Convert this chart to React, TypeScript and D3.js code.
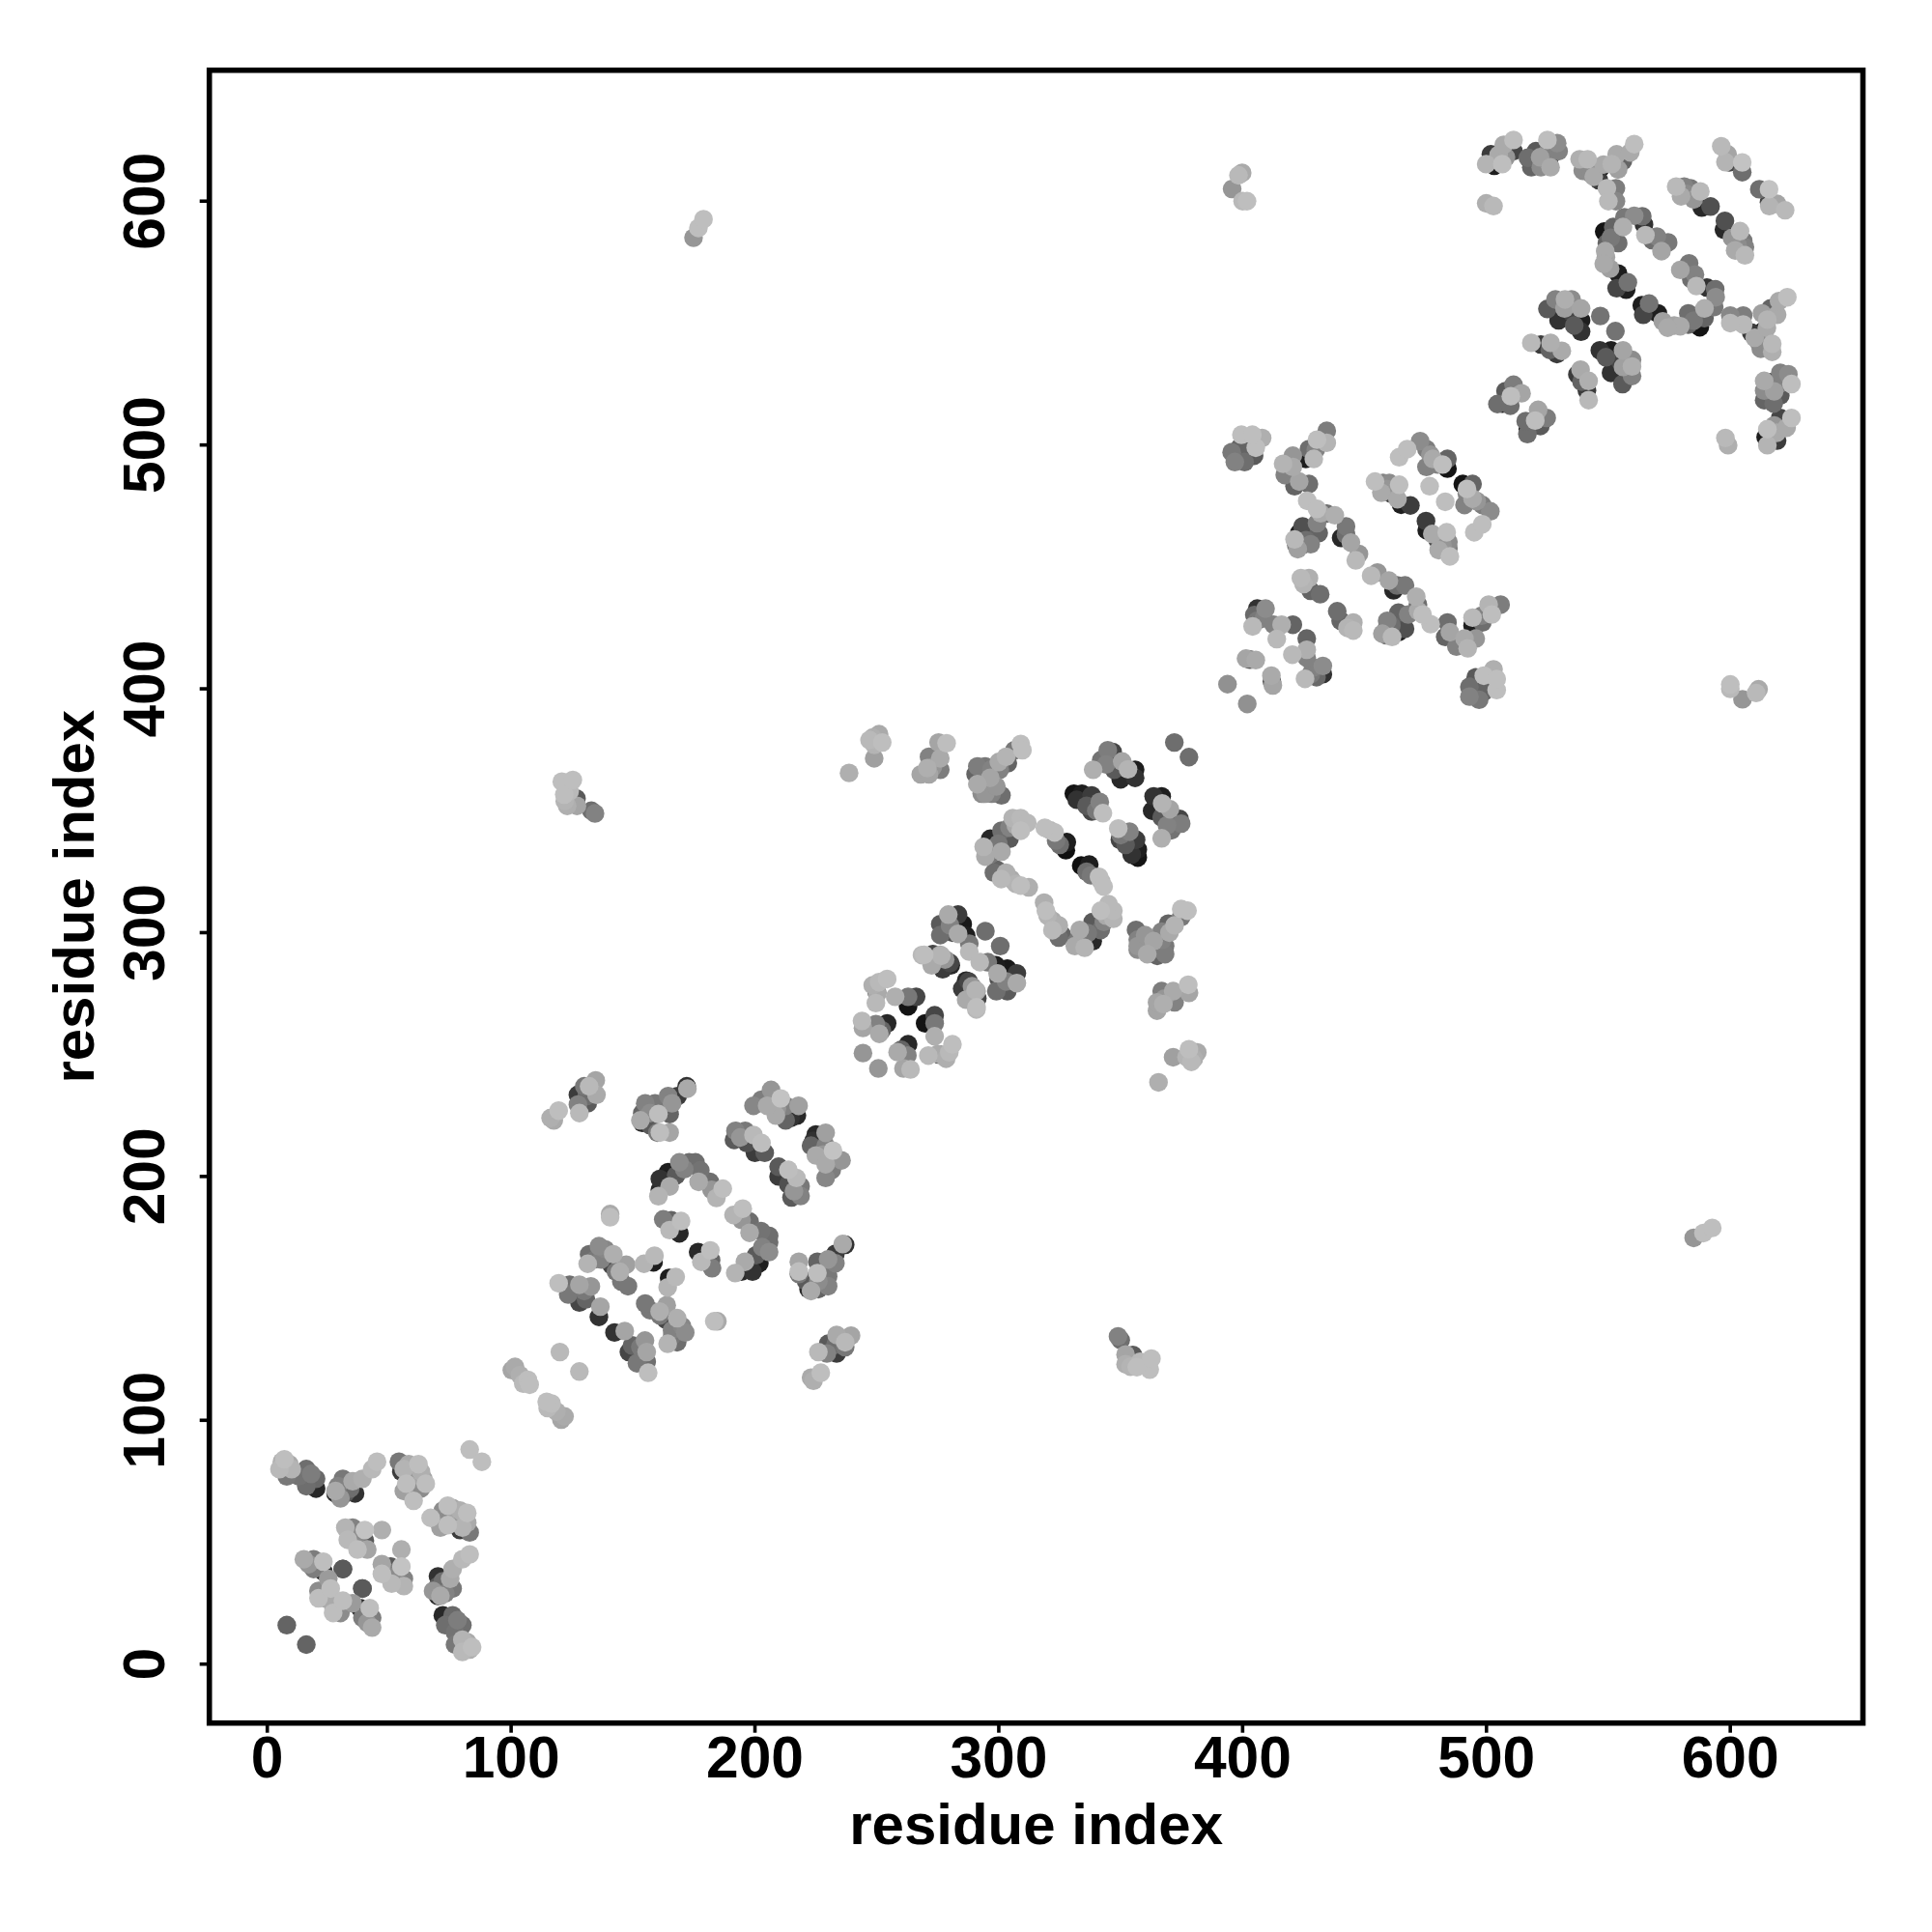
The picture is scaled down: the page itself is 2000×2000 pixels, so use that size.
import React from "react";
import * as d3 from "d3";

type C = [number, number, number];

const xTicks = [0, 100, 200, 300, 400, 500, 600];
const yTicks = [0, 100, 200, 300, 400, 500, 600];
const axisTitle = "residue index";

const block0: C[] = [
  [8,16,100],[7,84,190],[5,80,185],[10,80,180],[8,77,120],[16,80,110],[13,77,115],[20,72,40],[16,73,110],[20,76,105],[18,78,125],[6,83,175],[9,82,170],
  [36,70,50],[28,70,40],[28,71,170],[30,68,150],[32,70,90],[31,76,120],[39,76,175],[43,80,185],[45,83,190],[83,88,190],[34,72,110],[35,75,170],[29,73,130],
  [55,79,60],[54,83,120],[58,82,170],[62,82,190],[63,79,175],[63,72,140],[56,71,160],[57,74,190],[65,74,190],[60,67,190],[60,78,150],[56,80,180],[64,76,165],
  [32,56,180],[35,56,130],[33,51,185],[40,50.6,90],[36,52,140],[40,55,195],[47,55,175],[37,47,190],[41,47,165],[38,49,120],
  [15,43,170],[19,43,125],[19,39,125],[23,38,40],[23,42,190],[31,39,90],[25,35,155],[23,30,60],[21,30,140],[21,27,190],[26,31,190],[39,31,85],[17,41,150],[24,27,170],
];

const block1: C[] = [
  [172,237,50],[172.3,236,170],[130,237,120],[127.4,233.5,60],[132,237,185],[131.4,230,90],[127.4,229.5,130],[135,233.5,170],[134.7,239.4,165],[128,226,185],[116.2,224,175],[117.5,223,170],[119.5,227,190],[131,233,110],
  [168.3,233,60],[164.4,233,130],[165,225.6,100],[155,230,130],[159,230,120],[153.8,222,40],[153,223,170],[153.8,226,100],[160.4,225.6,190],[157,221,90],[160,218,120],[161,218,190],[165,218,165],[166,230,150],[157,226,140],
  [199.4,229,135],[202.7,231.5,125],[206.6,235.5,150],[210.6,232,195],[212.6,229,130],[208.6,225,170],[212.6,223,100],[214.6,224,50],[217.2,225,40],[217.9,229,160],[205,229,170],[209,228,150],
  [191.4,215,90],[192,218.7,130],[196,218.7,120],[196.7,213.7,80],[199.4,217,185],[202.7,213.7,190],[200,209.7,60],[204,209.7,90],[194,216,150],
  [161,199,50],[164.4,201.8,30],[161,194.5,40],[160.4,191.9,180],[165,195.9,170],[167.7,200.5,90],[169,205.8,140],[173,205.8,110],[175.6,205.8,110],[177.6,202.5,115],[176.9,197.8,170],[181.5,197.8,110],[182.2,194.5,150],[184.2,191.2,180],[186.8,195,190],[171,203,130],
  [169,176.7,40],[162.4,182.4,125],[165.7,182,100],[165,178,185],[169.7,181.7,190],
  [158.4,164.8,30],[154.5,164.2,180],[158.8,167.5,185],
  [132,168.1,110],[131.4,164.2,180],[136,171.4,140],[138.6,170.1,135],[134.7,166.1,120],[141.3,163.5,70],[141.9,168.1,175],[144.6,160.9,175],[145.2,156.9,120],[147.9,155,120],[147.2,163.8,160],[140.6,184.6,170],[140.6,183.3,190],[137,166,130],[143,161,120],
  [119.5,156.2,190],[124,155.6,110],[123.4,151.6,120],[126.7,151.6,60],[128,148.3,70],[130.7,149.6,100],[128,155.6,165],[132.7,154.9,150],[136,142.4,50],[136.6,146.6,165],[130,153,120],[126,153,80],
  [120,128,185],[100.3,120.6,165],[101.6,121.9,170],[103.6,118.6,175],[105,115,185],[106.9,116.6,190],[107.6,114.6,190],
];

const block2: C[] = [
  [238.6,365.5,175],[248.9,371.5,160],[248.3,380,175],[247,379,185],[250.9,381.4,170],[252.2,378,190],[249,377,180],
  [268,364.9,165],[271.4,364.9,165],[270.7,367.5,175],[271.4,372.1,130],[276,366.8,125],[276,371.5,170],[275.3,378,165],[278.6,377.7,190],[273,368,150],
  [291.2,360.9,170],[293.2,364.2,40],[290.5,365,100],[291.2,368.2,125],[294.5,368.2,120],[296.5,363.5,165],[293,357,140],[294.5,357,150],[297.1,357,130],[301.1,356.3,110],[297,367,130],[295,361,120],[299,360,150],
  [300.4,366.8,130],[300,370,170],[303.7,369.5,100],[303,372.1,180],[306.4,374.8,120],[309,377.4,190],[309.7,374.8,190],
  [350,362.9,40],[338.7,366.8,175],[342,370.8,115],[344.7,374.8,125],[346.7,374.1,70],[347.3,366.8,90],[350.6,370.2,165],[353,367,180],[355.9,363.5,50],[355.9,366.8,30],[372,378,110],[344,369,130],
  [330.8,357,20],[334.1,357,30],[332,354.5,50],[338.1,356.3,60],[341.4,353.6,130],[338.1,349.7,70],[340,350,120],[342.7,349,190],[336,352,90],
  [293.8,335.2,180],[295.8,333.8,80],[294.5,331.2,170],[296.5,332,120],[296.5,338.5,40],[299.8,336.5,120],[301.1,333.2,170],[299.1,325.9,100],[298,324.6,110],[301,322,185],[303,324.6,175],[305,322,170],[309,319.3,190],[312.3,318.6,175],[307,320,180],
  [304.4,338.5,90],[301.1,341.8,110],[304.4,343.1,130],[309,341.8,190],[305.7,347,180],[309,347,185],[311.7,345,185],[307,344,170],
  [327.5,333.8,15],[327.9,337.1,30],[323.5,337.8,120],[322.9,341.1,190],[318.9,343,190],[321,342,185],[325,336,110],
  [276,303.5,90],[276,299,110],[280,303,130],[279.3,307.4,170],[283.3,307.4,60],[285.2,303.5,25],[286.6,298.8,30],[283.3,299.5,170],[287.9,295.5,120],[287.9,292.2,185],[294.5,300.6,110],[281,300,80],
  [269.4,290.9,190],[272.7,290.9,70],[274,289,150],[276,290.9,170],[278,289,150],[280,287.6,70],
  [286.6,280.3,40],[285,277,60],[290.5,276.4,180],[288,274.5,50],[291.2,273,70],[286.6,272.5,170],[290.8,268.5,185],
  [248.3,278.4,175],[250.9,279.7,185],[254.2,281,190],[250.2,275,170],[250,275.5,30],[249.6,271.1,185],[257.5,273.7,175],[262.8,269.8,20],[262.8,273.7,120],[266.1,273.7,70],
  [243.9,263.8,185],[244.3,260.9,165],[249.6,262.5,130],[252,260,100],[251,258.5,170],[254.2,262.8,40],[244.3,250.6,150],
];

const block3: C[] = [
  [393.8,401.9,145],[401.4,412.4,165],[403,412,90],[405.4,411.8,170],
  [395.5,497,120],[396.8,493,130],[400.8,493,110],[398.8,498.9,100],[399.5,504.2,190],[402.1,498.9,70],[404.7,495.6,90],[405.4,498.9,190],[404,504.2,190],[408,502.9,175],
  [416.6,492.3,180],[418.5,492,30],[417.3,487.7,130],[420.6,495.6,150],[420.6,491,170],[421.3,483.1,100],[423.2,485,165],[427.2,484,110],[426.5,477.1,190],[430.5,473.8,190],[432,472,170],[434.5,471.9,110],[437.8,471.2,175],[419,489,120],
  [425.9,494.3,30],[429.2,494.3,185],[427.2,498.3,110],[430,498,130],[430.5,502.2,190],[434.5,500.9,180],[434.5,505.8,125],
  [440.4,461.9,40],[442.4,466.6,120],[442.4,463.3,110],[444.4,460,165],[446.4,452.7,185],[447.7,455.3,150],
  [421.3,461.3,185],[423.2,463.9,30],[424.6,466.6,80],[422,459,120],[422.6,457.3,160],[424.5,459,100],[427.9,462.6,40],[427.9,459.3,130],[431.2,463.9,100],[430.5,467.9,130],[426,461,110],
  [454.3,485,190],[456.9,480.4,170],[457.6,484.4,130],[460.2,484.4,140],[461,480,70],[463.5,477.8,170],[464.2,483.7,190],[465,475.5,30],[468.8,475.2,60],[459,482,150],
  [464.2,495,190],[467.5,498.3,190],[472.8,501.6,140],[475.4,498.3,125],[475.4,491,130],[476.7,483.1,190],[478,494.3,170],[480,492,130],[482,492,190],[484,490.3,20],[484,494.3,100],[477,496,150],
  [427.9,440.2,100],[423.9,445.4,185],[427.2,445.4,175],[425,443,180],[431.8,438.8,110],
  [404.8,430.3,105],[406,432.9,50],[409.4,432.9,140],[404.1,425.6,185],[408.7,428.9,130],[412.7,426.3,130],[414,420.4,185],[416,426.3,175],[420.6,426.3,100],[406,428,120],
];

const block4: C[] = [
  [499.9,599.1,175],[502.9,598,185],[398.3,610.6,185],[399.8,611.6,170],[395.7,605,150],[401.8,600,190],[400,600,185],
  [174.8,585,150],[176.8,589,190],[178.9,592.6,190],
  [120.8,361.9,190],[121.8,356.6,190],[122,354,180],[125.3,362.6,190],[126.8,355,90],[127,352,165],[132.9,350,110],[134.4,348.9,130],[124,358,185],[123,352,175],
  [499.9,615.2,180],[503.2,614.5,30],[501.8,619.2,60],[505,619,170],[506.5,615.2,190],[508,618,150],[507.1,623.1,170],[511.1,620.5,70],[511.1,625.1,190],
  [517,617.8,110],[518.4,613.9,100],[520.3,620.5,90],[522,618,160],[522.3,613.9,140],[525.6,616.5,20],[526.3,613.9,170],[525,620,130],[525,625.1,190],[529.6,620.5,130],[529,623.8,140],
  [538.2,617.2,175],[541.5,617.2,185],[539.5,612.5,140],[542.8,611.2,140],[546.5,613.2,25],[546.1,608.6,60],[549.4,605.3,185],[553.1,605.3,125],[550,600,185],[553.1,600,135],[544,614,130],[544,610,170],
  [551.4,615.2,180],[553.4,619.2,170],[556,616.5,100],[559,620,170],[560.6,623.4,190],[548,615,170],[554,613,160],
  [548.3,587.5,20],[552,589.4,100],[549.4,582.8,100],[554,582.8,110],[548.7,579.5,170],[556,589.4,175],[556.6,593.4,120],[560.6,594,140],[564.6,590.4,50],[563.9,593.8,110],[551,585,120],
  [548.1,574.3,170],[550.7,572.3,160],[553.4,564.3,70],[554,570.3,30],[557.3,563.7,30],[558,566.7,115],[549,577,165],
  [565.2,586.1,185],[568,584,110],[569.9,585.5,130],[571.8,579.5,165],[574.5,583.1,120],
  [577.8,606,185],[579.8,602,170],[581.1,606,130],[583.7,605.3,120],[585,600.7,150],[587.7,604,185],[588.3,597.4,40],[591.9,597.8,80],[582,603,140],
  [596.3,622.5,185],[598.9,619.2,165],[598,616,180],[599.6,615.9,70],[604.9,611.9,110],[604.9,615.9,195],
  [525,555.8,90],[528.3,559.7,130],[528.3,555.1,40],[529.6,551.1,50],[532.2,559.7,175],[534.9,559.7,140],[534.9,554.4,70],[538.8,551.1,30],[538.8,546.5,50],[538.8,556,165],[546.7,552.9,115],[532,556,160],[536,549,90],
  [518.4,541.9,185],[522.3,541.2,60],[526,539,100],[526.3,541.9,175],[528.9,537.3,60],[530.9,538.6,170],
  [504.5,516.8,110],[506.5,517,30],[507.8,522.1,90],[509.8,516.1,110],[510,520,190],[511.1,524.7,125],[514.4,521.2,165],
];

const contacts: C[] = [...block0, ...block1, ...block2, ...block3, ...block4];
const mirrored: C[] = contacts.flatMap((c): C[] => [c, [c[1], c[0], c[2]]]);
const allPoints: C[] = d3.sort(mirrored, (d) => d[2]);

const W = 2000;
const left = 216.7, right = 1928.5, top = 72.7, bottom = 1783.7;
const x = d3.scaleLinear().domain([-23.77, 654.4]).range([left, right]);
const y = d3.scaleLinear().domain([-24.17, 653.7]).range([bottom, top]);
const FONT = "'Liberation Sans', Arial, sans-serif";

export default function App() {
  return (
    <svg width={W} height={W} viewBox={`0 0 ${W} ${W}`} style={{ position: "absolute", left: 0, top: 0, background: "#fff" }}>
      {allPoints.map((d, i) => (
        <circle key={i} cx={x(d[0])} cy={y(d[1])} r={9.7} fill={d3.rgb(d[2], d[2], d[2]).formatHex()} />
      ))}
      <rect x={left} y={top} width={right - left} height={bottom - top} fill="none" stroke="#000" strokeWidth={5.6} />
      {xTicks.map((t) => (
        <g key={t}>
          <line x1={x(t)} x2={x(t)} y1={bottom} y2={bottom + 10} stroke="#000" strokeWidth={3.6} />
          <text x={x(t)} y={1840} textAnchor="middle" fontFamily={FONT} fontWeight="bold" fontSize={60.5}>{t}</text>
        </g>
      ))}
      {yTicks.map((t) => (
        <g key={t}>
          <line x1={left} x2={left - 10} y1={y(t)} y2={y(t)} stroke="#000" strokeWidth={3.6} />
          <text transform={`translate(170,${y(t)}) rotate(-90)`} textAnchor="middle" fontFamily={FONT} fontWeight="bold" fontSize={60.5}>{t}</text>
        </g>
      ))}
      <text x={(left + right) / 2} y={1909} textAnchor="middle" fontFamily={FONT} fontWeight="bold" fontSize={60}>{axisTitle}</text>
      <text transform={`translate(97,${(top + bottom) / 2}) rotate(-90)`} textAnchor="middle" fontFamily={FONT} fontWeight="bold" fontSize={60}>{axisTitle}</text>
    </svg>
  );
}
